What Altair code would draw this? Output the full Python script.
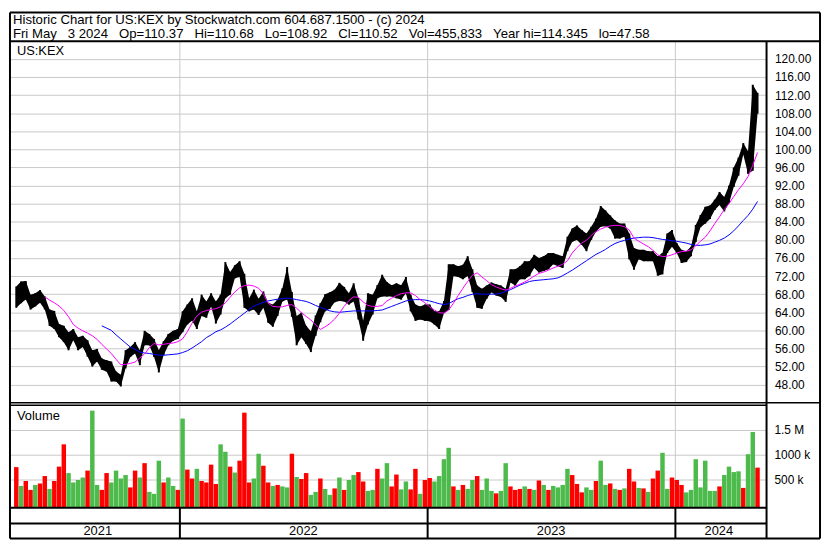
import altair as alt
import pandas as pd

# ---------------- text ----------------
HEADER_1 = "Historic Chart for US:KEX by Stockwatch.com 604.687.1500 - (c) 2024"
HEADER_2 = ("Fri May   3 2024   Op=110.37   Hi=110.68   Lo=108.92   Cl=110.52   "
            "Vol=455,833   Year hi=114.345   lo=47.58").replace(" ", "\u00a0")
SYMBOL = "US:KEX"
VOL_LABEL = "Volume"
PRICE_TICKS = [48, 52, 56, 60, 64, 68, 72, 76, 80, 84, 88, 92, 96, 100, 104, 108, 112, 116, 120]
VOL_TICKS = [500, 1000, 1500]          # thousands of shares
VOL_TICK_LABELS = ["500 k", "1000 k", "1.5 M"]
YEAR_LABELS = ["2021", "2022", "2023", "2024"]
YEAR_LABEL_DATES = ["2021-09-02", "2022-07-02", "2023-07-02", "2024-03-05"]
YEAR_BREAKS = ["2022-01-01", "2023-01-01", "2024-01-01"]

# ---------------- weekly data ----------------
FIRST_WEEK = "2021-05-05"
N_WEEKS = 157

price_high = [69.7, 70.8, 70.9, 67.9, 68.2, 68.9, 67.5, 64.6, 64.3, 61.4,
              61.0, 59.6, 60.3, 58.5, 58.8, 57.8, 55.6, 55.9, 53.8, 53.4,
              53.1, 50.9, 50.2, 55.6, 56.3, 57.4, 55.6, 59.9, 59.2, 58.1,
              55.6, 57.6, 59.2, 59.9, 60.3, 64.2, 65.7, 67.1, 64.2, 67.9,
              66.4, 68.2, 66.4, 67.9, 75.1, 72.9, 74.4, 75.3, 72.5, 67.1,
              69.0, 67.0, 68.6, 66.1, 65.7, 66.8, 69.3, 74.0, 68.5, 63.2,
              63.9, 61.0, 59.8, 63.3, 66.0, 68.0, 68.4, 69.0, 70.5, 69.6,
              68.2, 70.4, 67.1, 62.1, 68.2, 67.9, 70.0, 72.3, 70.7, 70.0,
              70.4, 70.0, 71.8, 67.9, 65.7, 65.3, 65.7, 65.7, 64.2, 64.2,
              66.5, 74.6, 74.6, 74.2, 74.5, 76.4, 73.5, 69.9, 69.2, 69.9,
              70.6, 70.2, 69.9, 69.2, 73.5, 73.5, 74.2, 75.3, 75.3, 76.7,
              76.0, 76.4, 77.1, 77.1, 76.7, 76.4, 80.7, 82.5, 83.2, 82.2,
              81.4, 82.9, 84.7, 87.5, 86.5, 85.4, 84.3, 83.6, 83.6, 81.4,
              78.2, 77.8, 77.8, 77.5, 77.5, 76.4, 77.1, 81.4, 82.2, 79.3,
              77.8, 77.5, 78.5, 83.3, 85.5, 87.3, 87.6, 88.9, 90.6, 89.5,
              92.0, 96.0, 98.2, 101.4, 99.6, 114.3, 112.5]

price_low = [65.0, 66.0, 66.8, 64.6, 65.3, 66.1, 64.6, 61.0, 60.3, 58.5,
             57.4, 55.6, 57.8, 55.6, 56.3, 54.2, 52.0, 53.1, 51.3, 50.9,
             48.7, 48.7, 47.6, 51.6, 54.1, 54.9, 52.3, 56.7, 56.7, 54.1,
             50.7, 54.5, 56.7, 57.7, 58.1, 59.6, 61.3, 62.1, 60.3, 63.2,
             62.8, 65.3, 61.5, 63.5, 67.1, 67.9, 71.5, 71.8, 65.0, 64.2,
             64.6, 63.4, 65.0, 61.7, 60.8, 63.2, 66.4, 66.8, 63.0, 56.7,
             58.5, 57.0, 55.2, 58.8, 61.8, 64.2, 64.8, 66.2, 66.5, 66.4,
             65.7, 66.4, 62.4, 57.7, 61.3, 63.5, 67.1, 67.5, 67.5, 67.5,
             67.1, 66.8, 68.2, 64.2, 62.1, 62.4, 62.1, 62.0, 61.3, 60.3,
             63.8, 64.5, 72.0, 71.8, 71.3, 72.0, 68.5, 65.0, 64.8, 67.0,
             68.4, 67.7, 67.4, 66.3, 70.6, 69.9, 71.3, 71.3, 72.0, 73.8,
             72.8, 73.1, 73.5, 74.6, 74.2, 73.8, 77.5, 79.6, 80.0, 78.9,
             77.5, 80.0, 81.8, 82.9, 83.0, 82.5, 80.3, 80.3, 80.7, 75.7,
             73.4, 75.7, 75.3, 75.3, 75.3, 72.1, 72.4, 77.1, 78.5, 77.1,
             74.9, 75.1, 76.4, 79.5, 82.8, 83.6, 84.6, 86.6, 87.7, 86.3,
             88.1, 91.7, 94.2, 98.9, 94.6, 95.3, 107.9]

ma_fast = [None] * 6 + [67.4, 66.7, 66.1, 65.4,
           64.4, 63.0, 61.3, 60.5, 59.9, 59.4, 58.8, 58.0, 56.9, 55.9,
           54.9, 53.6, 52.4, 52.5, 52.7, 53.0, 53.9, 54.8, 56.2, 57.1,
           56.8, 56.9, 57.1, 57.2, 57.5, 58.1, 59.7, 61.6, 63.2, 64.0,
           64.4, 64.6, 64.8, 65.2, 66.1, 67.3, 68.5, 69.4, 69.9, 70.0,
           69.8, 69.3, 68.1, 66.0, 65.3, 65.2, 65.2, 65.5, 65.7, 64.9,
           63.9, 63.1, 62.3, 61.2, 60.2, 60.8, 61.5, 62.5, 63.8, 65.3,
           66.6, 67.4, 67.3, 66.3, 65.5, 65.3, 65.3, 65.5, 66.5, 67.1,
           67.7, 68.1, 68.3, 68.3, 67.7, 66.8, 66.1, 65.2, 64.5, 63.9,
           63.8, 64.5, 66.0, 67.7, 69.3, 70.8, 72.2, 72.7, 71.8, 71.0,
           70.1, 69.6, 69.2, 68.9, 69.3, 69.8, 70.2, 70.7, 71.3, 72.0,
           72.6, 72.9, 73.3, 73.8, 74.2, 74.6, 75.4, 77.1, 78.3, 79.3,
           79.9, 81.0, 81.8, 82.4, 82.8, 83.1, 83.2, 83.2, 82.9, 82.2,
           80.4, 79.7, 79.1, 78.5, 77.7, 76.7, 76.3, 76.4, 76.7, 77.1,
           77.4, 77.5, 77.8, 78.7, 79.7, 80.6, 82.0, 83.6, 85.1, 86.7,
           88.0, 89.6, 91.1, 92.4, 94.0, 96.5, 99.3]

ma_slow = [None] * 18 + [61.0, 60.5,
           60.0, 59.0, 58.1, 57.2, 56.3, 55.8, 55.2, 55.0, 54.9, 54.7,
           54.5, 54.5, 54.6, 54.7, 54.8, 55.1, 55.5, 56.1, 56.8, 57.5,
           58.4, 59.0, 59.7, 60.1, 60.7, 61.4, 62.2, 63.0, 63.8, 64.6,
           65.4, 65.8, 66.2, 66.5, 66.7, 66.9, 67.0, 67.1, 67.0, 66.8,
           66.6, 66.4, 66.0, 65.5, 65.1, 64.7, 64.3, 64.1, 64.0, 64.1,
           64.2, 64.3, 64.3, 64.3, 64.3, 64.3, 64.4, 64.5, 64.9, 65.3,
           65.7, 66.1, 66.5, 66.7, 66.8, 66.8, 66.7, 66.5, 66.2, 65.9,
           65.7, 65.9, 66.5, 67.0, 67.3, 67.7, 68.0, 68.1, 68.0, 68.0,
           68.0, 68.0, 68.2, 68.6, 69.0, 69.5, 70.0, 70.4, 70.8, 71.0,
           71.1, 71.2, 71.3, 71.4, 71.6, 72.1, 72.7, 73.3, 74.0, 74.7,
           75.4, 76.1, 76.8, 77.3, 77.9, 78.6, 79.2, 79.6, 79.9, 80.2,
           80.4, 80.5, 80.6, 80.6, 80.5, 80.3, 80.1, 80.0, 79.8, 79.7,
           79.5, 79.3, 79.0, 78.8, 78.8, 78.9, 79.1, 79.5, 79.9, 80.4,
           81.1, 82.0, 83.1, 84.3, 85.4, 86.8, 88.5]

volume_k = [760, 380, 480, 300, 400, 430, 580, 320, 480, 770,
            1220, 640, 450, 500, 550, 690, 1900, 400, 300, 640,
            450, 690, 530, 600, 350, 690, 550, 840, 260, 220,
            890, 450, 550, 380, 300, 1740, 710, 530, 725, 480,
            450, 810, 420, 1220, 1070, 770, 650, 890, 1860, 450,
            530, 1030, 790, 450, 380, 400, 370, 350, 1030, 560,
            520, 640, 200, 260, 530, 320, 200, 330, 550, 300,
            500, 600, 660, 470, 280, 300, 725, 530, 840, 370,
            610, 310, 470, 310, 725, 220, 500, 540, 470, 580,
            920, 1150, 370, 300, 400, 320, 500, 580, 300, 530,
            280, 230, 280, 840, 370, 300, 320, 370, 320, 300,
            490, 400, 300, 380, 350, 400, 725, 600, 420, 250,
            350, 300, 480, 890, 400, 430, 320, 300, 330, 725,
            470, 340, 330, 260, 530, 690, 1050, 320, 550, 500,
            400, 250, 300, 920, 350, 890, 280, 280, 370, 600,
            770, 660, 675, 340, 1020, 1470, 750]

volume_dir = list("rgrrgrrgrr" "rggggrggrr" "ggggrrgrgg" "grggrgrrgr"
                  "rrrggrgrrr" "ggrrgrggrg" "rrggrggrgr" "ggrrggrggr"
                  "rggrrgrrgg" "ggrgrggrgg" "grggrrrgrg" "rgrggggrrr"
                  "ggrggrgrgr" "rgrgrrggrr" "rgggggggrg" "gggrggr")

# ---------------- layout (pixels inside the single view) ----------------
W, RC = 764, 54
HDR = 29
P_TOP, P_BOT = 29, 394
V_TOP, V_BOT = 397, 500
Y_MID, Y_BOT = 516, 531
GRID = "#c8c8c8"
FONT = "Liberation Sans"
GREEN = "#4cbb4c"
RED = "#ff0000"

dates = pd.date_range(FIRST_WEEK, periods=N_WEEKS, freq="7D").strftime("%Y-%m-%d").tolist()
df = pd.DataFrame({"date": dates, "high": price_high, "low": price_low,
                   "fast": ma_fast, "slow": ma_slow,
                   "vol": volume_k, "dir": volume_dir})
df_years = pd.DataFrame({"d": YEAR_LABEL_DATES, "t": YEAR_LABELS})
df_breaks = pd.DataFrame({"d": YEAR_BREAKS})
df_vticks = pd.DataFrame({"v": VOL_TICKS, "t": VOL_TICK_LABELS})
one = alt.Data(values=[{}])

xscale = alt.Scale(type="utc", domain=[alt.DateTime(year=2021, month=5, date=3, utc=True),
                                       alt.DateTime(year=2024, month=5, date=7, utc=True)])


def X(field):
    return alt.X(f"{field}:T", scale=xscale, axis=None, title=None)


pscale = alt.Scale(domain=[44, 123.9], range=[P_BOT, P_TOP], nice=False, zero=False)
vscale = alt.Scale(domain=[-60, 2000], range=[V_BOT, V_TOP], nice=False, zero=False)
paxis = alt.Axis(orient="right", values=PRICE_TICKS, format=".2f", grid=True, gridColor=GRID,
                 ticks=False, domain=False, labelPadding=8)


def P(field, axis=None):
    return alt.Y(f"{field}:Q", scale=pscale, axis=axis, title=None)


def V(field):
    return alt.Y(f"{field}:Q", scale=vscale, axis=None, title=None)


def rule(x, x2=None, y=None, y2=None, w=2, color="black"):
    enc = {"x": alt.value(x), "y": alt.value(y)}
    if x2 is not None:
        enc["x2"] = alt.value(x2)
    if y2 is not None:
        enc["y2"] = alt.value(y2)
    return alt.Chart(one).mark_rule(color=color, strokeWidth=w).encode(**enc)


def label(text, x, y, size=13, baseline="alphabetic"):
    return alt.Chart(alt.Data(values=[{"t": text}])).mark_text(
        align="left", baseline=baseline, font=FONT, fontSize=size, color="black"
    ).encode(x=alt.value(x), y=alt.value(y), text="t:N")


# year dividers
ygrid_p = alt.Chart(df_breaks).mark_rule(color=GRID).encode(x=X("d"), y=alt.value(P_TOP), y2=alt.value(P_BOT))
ygrid_v = alt.Chart(df_breaks).mark_rule(color=GRID).encode(x=X("d"), y=alt.value(V_TOP), y2=alt.value(V_BOT))
ygrid_a = alt.Chart(df_breaks).mark_rule(color="black", strokeWidth=2).encode(
    x=X("d"), y=alt.value(V_BOT), y2=alt.value(Y_BOT))

# price: weekly high-low range band plus thin bars
band = alt.Chart(df).mark_area(color="black", interpolate="linear").encode(
    x=X("date"), y=P("low", paxis), y2="high:Q")
bars = alt.Chart(df).mark_rule(color="black", strokeWidth=2).encode(
    x=X("date"), y=P("low"), y2="high:Q")
fast = alt.Chart(df).mark_line(color="#ff00ff", strokeWidth=1).encode(x=X("date"), y=P("fast"))
slow = alt.Chart(df).mark_line(color="#0000ff", strokeWidth=1).encode(x=X("date"), y=P("slow"))

# volume
vgrid = alt.Chart(df_vticks).mark_rule(color=GRID).encode(y=V("v"), x=alt.value(0), x2=alt.value(W))
vlabels = alt.Chart(df_vticks).mark_text(align="left", baseline="middle", font=FONT, fontSize=12,
                                         color="black").encode(y=V("v"), x=alt.value(W + 8), text="t:N")
vbars = alt.Chart(df).mark_bar(width=4.5).encode(
    x=X("date"), y=V("vol"), y2=alt.Y2(datum=-60),
    color=alt.Color("dir:N", scale=alt.Scale(domain=["g", "r"], range=[GREEN, RED]), legend=None))

# year labels
ytext = alt.Chart(df_years).mark_text(font=FONT, fontSize=13, baseline="middle", color="black").encode(
    x=X("d"), y=alt.value(524), text="t:N")

frame = [
    rule(0, x2=W + RC, y=0, w=2),
    rule(0, y=0, y2=Y_BOT, w=2),
    rule(W + RC, y=0, y2=Y_BOT, w=2),
    rule(0, x2=W + RC, y=Y_BOT, w=2),
    rule(0, x2=W + RC, y=HDR, w=2),
    rule(0, x2=W + RC, y=P_BOT, w=1.5),
    rule(0, x2=W, y=V_TOP - 0.5, w=1.5),
    rule(0, x2=W, y=V_BOT, w=2),
    rule(0, x2=W, y=Y_MID, w=2),
    rule(W, y=HDR, y2=Y_BOT, w=2),
]

chart = alt.layer(
    ygrid_p, ygrid_v, vgrid,
    band, bars, slow, fast,
    vbars, vlabels, ygrid_a, ytext,
    label(HEADER_1, 3, 11.5, 13.3), label(HEADER_2, 3, 25.5, 13.3),
    label(SYMBOL, 7, P_TOP + 10, 13, "middle"),
    label(VOL_LABEL, 7, V_TOP + 10, 13, "middle"),
    *frame,
).resolve_scale(y="independent").properties(
    width=W, height=Y_BOT, padding=1, background="white"
).configure_view(stroke=None).configure_axis(labelFont=FONT, labelFontSize=12, labelColor="black")

chart.save("out.html", embed_options={"renderer": "svg", "actions": False})
